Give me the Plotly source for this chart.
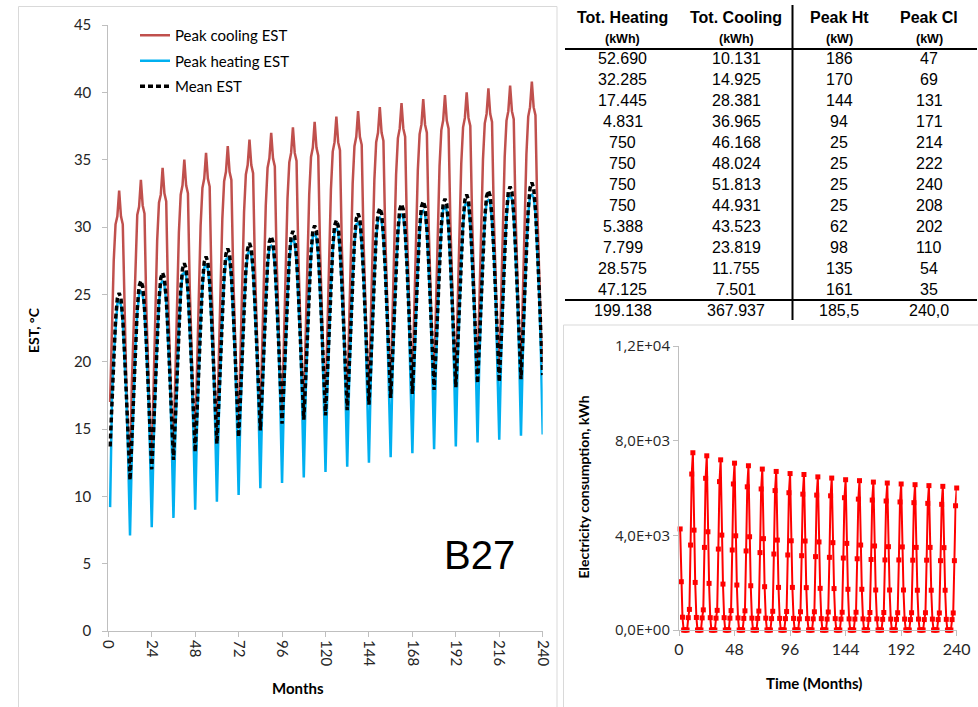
import plotly.graph_objects as go

W, H = 978, 707

# ---------------------------------------------------------------- data
months = list(range(1, 241))

# Entering-source temperature, one row per year (Jan..Dec), deg C
peak_cooling_est = [
    [17.0, 22.4, 27.5, 30.2, 30.8, 32.7, 30.8, 30.2, 23.3, 18.1, 14.3, 11.8],
    [18.3, 22.7, 28.1, 30.9, 31.5, 33.5, 31.6, 31.0, 24.1, 18.9, 15.1, 12.6],
    [19.1, 23.5, 29.0, 31.8, 32.4, 34.4, 32.5, 31.9, 24.9, 19.6, 15.8, 13.3],
    [19.8, 24.2, 29.6, 32.4, 33.1, 35.0, 33.1, 32.5, 25.5, 20.2, 16.4, 13.9],
    [20.4, 24.7, 30.1, 32.9, 33.6, 35.5, 33.6, 33.0, 26.1, 20.8, 17.0, 14.5],
    [21.0, 25.3, 30.6, 33.4, 34.1, 36.0, 34.1, 33.5, 26.6, 21.3, 17.5, 15.0],
    [21.5, 25.8, 31.1, 33.9, 34.6, 36.5, 34.6, 34.0, 27.1, 21.8, 18.0, 15.5],
    [22.0, 26.3, 31.6, 34.4, 35.1, 37.0, 35.1, 34.5, 27.6, 22.3, 18.5, 16.0],
    [22.4, 26.7, 32.1, 34.8, 35.5, 37.4, 35.5, 34.9, 27.9, 22.6, 18.8, 16.3],
    [22.8, 27.1, 32.4, 35.2, 35.9, 37.8, 35.9, 35.3, 28.3, 23.0, 19.1, 16.6],
    [23.1, 27.4, 32.8, 35.6, 36.3, 38.2, 36.3, 35.7, 28.7, 23.4, 19.5, 17.0],
    [23.5, 27.8, 33.2, 36.0, 36.7, 38.6, 36.7, 36.1, 29.1, 23.8, 19.9, 17.4],
    [23.9, 28.2, 33.5, 36.3, 37.0, 38.9, 37.0, 36.4, 29.5, 24.2, 20.4, 17.9],
    [24.3, 28.6, 33.9, 36.6, 37.3, 39.2, 37.3, 36.7, 29.8, 24.5, 20.7, 18.2],
    [24.6, 28.9, 34.2, 36.9, 37.6, 39.5, 37.6, 37.0, 30.1, 24.8, 21.0, 18.5],
    [24.9, 29.2, 34.5, 37.2, 37.9, 39.8, 37.9, 37.3, 30.3, 25.0, 21.2, 18.7],
    [25.1, 29.4, 34.7, 37.4, 38.1, 40.0, 38.1, 37.5, 30.6, 25.3, 21.5, 19.0],
    [25.4, 29.7, 35.0, 37.7, 38.4, 40.3, 38.4, 37.8, 30.8, 25.5, 21.6, 19.1],
    [25.5, 29.8, 35.2, 37.9, 38.6, 40.5, 38.6, 38.0, 31.0, 25.7, 21.8, 19.3],
    [25.8, 30.1, 35.4, 38.2, 38.9, 40.8, 38.9, 38.3, 31.4, 26.1, 22.3, 19.8],
]

peak_heating_est = [
    [9.2, 17.0, 20.4, 22.8, 24.3, 24.5, 24.2, 22.9, 20.4, 17.2, 12.8, 7.1],
    [13.0, 17.6, 21.1, 23.6, 25.0, 25.2, 25.0, 23.7, 21.3, 18.0, 13.6, 7.7],
    [13.7, 18.3, 21.7, 24.3, 25.8, 26.0, 25.7, 24.4, 22.0, 18.7, 14.3, 8.4],
    [14.4, 19.0, 22.4, 25.0, 26.5, 26.6, 26.4, 25.0, 22.6, 19.3, 14.9, 9.0],
    [15.0, 19.5, 23.0, 25.5, 27.0, 27.2, 26.9, 25.6, 23.2, 19.9, 15.5, 9.6],
    [15.6, 20.1, 23.6, 26.1, 27.6, 27.7, 27.5, 26.1, 23.7, 20.4, 16.0, 10.1],
    [16.1, 20.6, 24.0, 26.5, 28.0, 28.2, 27.9, 26.6, 24.2, 20.9, 16.5, 10.6],
    [16.6, 21.1, 24.5, 27.0, 28.5, 28.6, 28.4, 27.1, 24.7, 21.4, 17.0, 11.0],
    [17.1, 21.5, 24.9, 27.4, 28.9, 29.1, 28.8, 27.4, 25.0, 21.7, 17.3, 11.4],
    [17.4, 21.9, 25.3, 27.8, 29.3, 29.5, 29.2, 27.8, 25.4, 22.1, 17.6, 11.8],
    [17.7, 22.2, 25.7, 28.2, 29.7, 29.9, 29.6, 28.2, 25.8, 22.5, 18.0, 12.2],
    [18.1, 22.7, 26.1, 28.7, 30.2, 30.3, 30.1, 28.7, 26.3, 22.9, 18.4, 12.5],
    [18.5, 23.1, 26.5, 29.1, 30.6, 30.7, 30.5, 29.1, 26.7, 23.3, 18.9, 12.9],
    [19.0, 23.5, 26.9, 29.4, 30.8, 30.9, 30.7, 29.4, 27.0, 23.6, 19.2, 13.2],
    [19.3, 23.7, 27.1, 29.6, 31.1, 31.2, 31.0, 29.6, 27.2, 23.9, 19.5, 13.5],
    [19.5, 24.0, 27.4, 29.8, 31.3, 31.5, 31.2, 29.8, 27.4, 24.1, 19.7, 13.7],
    [19.8, 24.2, 27.6, 30.1, 31.6, 31.8, 31.5, 30.1, 27.7, 24.4, 20.0, 14.0],
    [20.1, 24.5, 27.9, 30.4, 31.9, 32.0, 31.8, 30.4, 28.0, 24.6, 20.1, 14.2],
    [20.2, 24.7, 28.2, 30.7, 32.2, 32.3, 32.1, 30.7, 28.2, 24.8, 20.4, 14.5],
    [20.4, 25.0, 28.4, 31.0, 32.3, 32.4, 32.2, 31.0, 28.5, 25.1, 20.7, 14.6],
]

mean_est = [
    [13.7, 17.3, 20.6, 23.1, 24.7, 25.1, 24.7, 23.2, 20.6, 17.5, 14.0, 11.2],
    [14.2, 17.9, 21.3, 23.9, 25.6, 26.0, 25.6, 24.0, 21.5, 18.3, 14.8, 12.0],
    [14.9, 18.6, 21.9, 24.6, 26.2, 26.6, 26.2, 24.7, 22.2, 19.0, 15.5, 12.7],
    [15.6, 19.3, 22.6, 25.3, 26.9, 27.3, 26.9, 25.3, 22.8, 19.6, 16.1, 13.3],
    [16.2, 19.8, 23.2, 25.8, 27.4, 27.8, 27.4, 25.9, 23.4, 20.2, 16.7, 13.9],
    [16.8, 20.4, 23.8, 26.4, 28.0, 28.4, 28.0, 26.4, 23.9, 20.7, 17.2, 14.4],
    [17.3, 20.9, 24.2, 26.8, 28.4, 28.8, 28.4, 26.9, 24.4, 21.2, 17.7, 14.9],
    [17.8, 21.4, 24.7, 27.3, 28.9, 29.3, 28.9, 27.4, 24.9, 21.7, 18.2, 15.4],
    [18.3, 21.8, 25.1, 27.7, 29.3, 29.7, 29.3, 27.7, 25.2, 22.0, 18.5, 15.7],
    [18.6, 22.2, 25.5, 28.1, 29.7, 30.1, 29.7, 28.1, 25.6, 22.4, 18.8, 16.0],
    [18.9, 22.5, 25.9, 28.5, 30.1, 30.5, 30.1, 28.5, 26.0, 22.8, 19.2, 16.4],
    [19.3, 23.0, 26.3, 29.0, 30.6, 31.0, 30.6, 29.0, 26.5, 23.2, 19.6, 16.8],
    [19.7, 23.4, 26.7, 29.4, 31.0, 31.4, 31.0, 29.4, 26.9, 23.6, 20.1, 17.3],
    [20.2, 23.8, 27.1, 29.7, 31.3, 31.7, 31.3, 29.7, 27.2, 23.9, 20.4, 17.6],
    [20.5, 24.0, 27.3, 29.9, 31.5, 31.9, 31.5, 29.9, 27.4, 24.2, 20.7, 17.9],
    [20.7, 24.3, 27.6, 30.1, 31.7, 32.1, 31.7, 30.1, 27.6, 24.4, 20.9, 18.1],
    [21.0, 24.5, 27.8, 30.4, 32.0, 32.4, 32.0, 30.4, 27.9, 24.7, 21.2, 18.4],
    [21.3, 24.8, 28.1, 30.7, 32.3, 32.7, 32.3, 30.7, 28.2, 24.9, 21.3, 18.5],
    [21.4, 25.0, 28.4, 31.0, 32.6, 33.0, 32.6, 31.0, 28.4, 25.1, 21.6, 18.7],
    [21.6, 25.3, 28.6, 31.3, 32.9, 33.3, 32.9, 31.3, 28.7, 25.4, 21.9, 19.0],
]

# Monthly heat-pump electricity consumption, kWh (Jan..Dec per year)
electricity_kwh = [
    [4270, 2040, 540, 0, 0, 0, 0, 520, 870, 3590, 6590, 7490],
    [4220, 2010, 530, 0, 0, 0, 0, 510, 850, 3490, 6410, 7360],
    [4150, 1970, 520, 0, 0, 0, 0, 500, 830, 3420, 6270, 7190],
    [4010, 1940, 520, 0, 0, 0, 0, 500, 820, 3380, 6170, 7050],
    [3980, 1900, 510, 0, 0, 0, 0, 490, 810, 3340, 6050, 6940],
    [3940, 1870, 500, 0, 0, 0, 0, 490, 800, 3270, 5960, 6800],
    [3860, 1830, 500, 0, 0, 0, 0, 480, 790, 3210, 5890, 6700],
    [3800, 1800, 490, 0, 0, 0, 0, 480, 780, 3170, 5800, 6610],
    [3770, 1800, 490, 0, 0, 0, 0, 470, 770, 3140, 5740, 6570],
    [3760, 1790, 480, 0, 0, 0, 0, 470, 770, 3100, 5700, 6470],
    [3720, 1760, 480, 0, 0, 0, 0, 460, 760, 3070, 5670, 6420],
    [3690, 1750, 480, 0, 0, 0, 0, 460, 750, 3040, 5590, 6350],
    [3660, 1720, 470, 0, 0, 0, 0, 460, 750, 3010, 5530, 6310],
    [3590, 1720, 470, 0, 0, 0, 0, 450, 740, 2980, 5490, 6250],
    [3550, 1690, 470, 0, 0, 0, 0, 450, 740, 2960, 5450, 6210],
    [3520, 1690, 460, 0, 0, 0, 0, 450, 730, 2960, 5410, 6170],
    [3510, 1690, 460, 0, 0, 0, 0, 440, 730, 2950, 5380, 6140],
    [3490, 1680, 460, 0, 0, 0, 0, 440, 730, 2950, 5350, 6100],
    [3490, 1680, 460, 0, 0, 0, 0, 440, 720, 2930, 5310, 6070],
    [3480, 1680, 450, 0, 0, 0, 0, 440, 720, 2930, 5250, 6000],
]

# Monthly building loads
tot_heating_kwh = [52690, 32285, 17445, 4831, 750, 750, 750, 750, 5388, 7799, 28575, 47125]
tot_cooling_kwh = [10131, 14925, 28381, 36965, 46168, 48024, 51813, 44931, 43523, 23819, 11755, 7501]
peak_ht_kw = [186, 170, 144, 94, 25, 25, 25, 25, 62, 98, 135, 161]
peak_cl_kw = [47, 69, 131, 171, 214, 222, 240, 208, 202, 110, 54, 35]
total_heating_kwh = 199138
total_cooling_kwh = 367937
design_peak_ht_kw = 185.5
design_peak_cl_kw = 240.0

table_headers = ["Tot. Heating", "Tot. Cooling", "Peak Ht", "Peak Cl"]
table_units = ["(kWh)", "(kWh)", "(kW)", "(kW)"]

est_ticks = [0, 5, 10, 15, 20, 25, 30, 35, 40, 45]
month_ticks = [0, 24, 48, 72, 96, 120, 144, 168, 192, 216, 240]
elec_ticks = [0, 4000, 8000, 12000]
elec_tick_labels = ["0,0E+00", "4,0E+03", "8,0E+03", "1,2E+04"]
elec_month_ticks = [0, 48, 96, 144, 192, 240]


def flat(rows):
    return [v for row in rows for v in row]


def fx(x):
    return x / W


def fy(y):
    return 1 - y / H


def thousands(v):
    return f"{v:,}".replace(",", ".")


def decimal_comma(v):
    return f"{v:.1f}".replace(".", ",")


# ---------------------------------------------------------------- traces
fig = go.Figure()

fig.add_trace(go.Scatter(
    x=months, y=flat(peak_cooling_est), mode="lines", name="Peak cooling EST",
    line=dict(color="#C0504D", width=2.5), xaxis="x", yaxis="y", legendgroup="a"))
fig.add_trace(go.Scatter(
    x=months, y=flat(peak_heating_est), mode="lines", name="Peak heating EST",
    line=dict(color="#00B0F0", width=2.5), xaxis="x", yaxis="y", legendgroup="b"))
fig.add_trace(go.Scatter(
    x=months, y=flat(mean_est), mode="lines", name="Mean EST",
    line=dict(color="#000000", width=3.5, dash="5px,3px"), xaxis="x", yaxis="y",
    legendgroup="c"))

fig.add_trace(go.Scatter(
    x=months, y=flat(electricity_kwh), mode="lines+markers", showlegend=False,
    line=dict(color="#FF0000", width=2),
    marker=dict(symbol="square", size=5, color="#FF0000"),
    cliponaxis=False, xaxis="x2", yaxis="y2"))

# ---------------------------------------------------------------- axes
axis_grey = "#BFBFBF"
tick_font = dict(family="Lato", size=15, color="#262626")

fig.update_layout(
    width=W, height=H, autosize=False,
    margin=dict(l=0, r=0, t=0, b=0, autoexpand=False),
    paper_bgcolor="white", plot_bgcolor="white",
    showlegend=True,
    legend=dict(x=fx(135), y=fy(19), xanchor="left", yanchor="top",
                font=dict(family="Lato", size=15, color="#000000"),
                bgcolor="rgba(0,0,0,0)", traceorder="grouped",
                tracegroupgap=3),
    xaxis=dict(domain=[fx(108.3), fx(542.7)], range=[0, 240], anchor="y",
               tickvals=month_ticks, tickangle=90, ticks="outside", ticklen=5,
               tickcolor=axis_grey, showline=True, linecolor=axis_grey,
               showgrid=False, zeroline=False, tickfont=tick_font,
               automargin=False),
    yaxis=dict(domain=[fy(631), fy(25)], range=[0, 45], anchor="x",
               tickvals=est_ticks, ticks="outside", ticklen=5,
               tickcolor=axis_grey, showline=True, linecolor=axis_grey,
               showgrid=False, zeroline=False, tickfont=tick_font,
               ticklabelstandoff=8, automargin=False),
    xaxis2=dict(domain=[fx(679), fx(956.7)], range=[0, 240], anchor="y2",
                tickvals=elec_month_ticks, ticks="outside", ticklen=5,
                tickcolor=axis_grey, showline=True, linecolor=axis_grey,
                showgrid=False, zeroline=False, automargin=False,
                tickfont=dict(family="Lato", size=16, color="#262626")),
    yaxis2=dict(domain=[fy(630), fy(346)], range=[0, 12000], anchor="x2",
                tickvals=elec_ticks, ticktext=elec_tick_labels,
                ticks="outside", ticklen=5, tickcolor=axis_grey,
                showline=True, linecolor=axis_grey, showgrid=False,
                zeroline=False, automargin=False,
                tickfont=dict(family="Open Sans", size=15, color="#262626")),
)

# ---------------------------------------------------------------- text
ann = []


def text(x, y, s, size, family="Lato", bold=False, angle=0, color="#000000"):
    ann.append(dict(
        x=fx(x), y=fy(y), xref="paper", yref="paper", showarrow=False,
        text=f"<b>{s}</b>" if bold else s, textangle=angle,
        xanchor="center", yanchor="middle",
        font=dict(family=family, size=size, color=color)))


text(297.5, 688, "Months", 15, bold=True)
text(33, 330, "EST, °C", 14, bold=True, angle=-90)
text(814, 682.5, "Time (Months)", 15, bold=True)
text(582.5, 487, "Electricity consumption, kWh", 14, bold=True, angle=-90)
text(479, 555, "B27", 40, family="Liberation Sans")

col_x = [622.7, 736.0, 839.3, 929.3]
tbl_font = "Liberation Sans"
for cx, head, unit in zip(col_x, table_headers, table_units):
    text(cx, 17.5, head, 16, family=tbl_font, bold=True)
    text(cx, 39, unit, 12.5, family=tbl_font, bold=True)

for i in range(12):
    ry = 58.5 + 21.0 * i
    text(col_x[0], ry, thousands(tot_heating_kwh[i]), 16, family=tbl_font)
    text(col_x[1], ry, thousands(tot_cooling_kwh[i]), 16, family=tbl_font)
    text(col_x[2], ry, str(peak_ht_kw[i]), 16, family=tbl_font)
    text(col_x[3], ry, str(peak_cl_kw[i]), 16, family=tbl_font)

text(col_x[0], 310, thousands(total_heating_kwh), 16, family=tbl_font)
text(col_x[1], 310, thousands(total_cooling_kwh), 16, family=tbl_font)
text(col_x[2], 310, decimal_comma(design_peak_ht_kw), 16, family=tbl_font)
text(col_x[3], 310, decimal_comma(design_peak_cl_kw), 16, family=tbl_font)

fig.update_layout(annotations=ann)


# ---------------------------------------------------------------- frames and rules
def seg(x0, y0, x1, y1, color, width):
    return dict(type="line", xref="paper", yref="paper",
                x0=fx(x0), x1=fx(x1), y0=fy(y0), y1=fy(y1),
                line=dict(color=color, width=width))


frame = "#D9D9D9"
shapes = [
    # main chart-area frame
    seg(18.5, 6.5, 557, 6.5, frame, 1),
    seg(18.5, 6.5, 18.5, 707, frame, 1),
    seg(557, 6.5, 557, 707, frame, 1),
    # electricity chart-area frame
    seg(563.5, 325, 978, 325, frame, 1),
    seg(563.5, 325, 563.5, 707, frame, 1),
    # table rules
    seg(565, 49, 977, 49, "#000000", 2),
    seg(565, 300, 977, 300, "#000000", 2),
    seg(792.5, 5, 792.5, 320, "#000000", 2),
]
fig.update_layout(shapes=shapes)

fig.write_html("out.html")
